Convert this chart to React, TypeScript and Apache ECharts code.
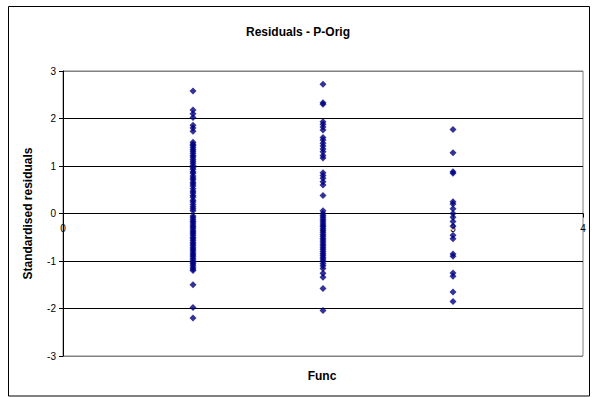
import React, { useEffect, useRef } from "react";
import * as echarts from "echarts";

const titleText = "Residuals - P-Orig";
const xName = "Func";
const yName = "Standardised residuals";
const xTicks = [0, 1, 2, 3, 4];
const yTicks = [-3, -2, -1, 0, 1, 2, 3];

const func1 = [
  2.58, 2.18, 2.1, 2.02, 1.86, 1.8, 1.73,
  1.5, 1.46, 1.43, 1.39, 1.35, 1.31, 1.27, 1.22, 1.19, 1.14, 1.1, 1.06, 1.01, 0.97,
  0.93, 0.88, 0.85, 0.79, 0.75, 0.71, 0.66, 0.62, 0.58, 0.52, 0.47, 0.43, 0.38,
  0.34, 0.28, 0.24, 0.19, 0.14, 0.1, 0.06,
  -0.05, -0.09, -0.13, -0.17, -0.2, -0.24, -0.28, -0.31, -0.35, -0.39, -0.42, -0.46,
  -0.5, -0.53, -0.57, -0.61, -0.64, -0.68, -0.72, -0.75, -0.79, -0.83, -0.87, -0.9,
  -0.94, -0.98, -1.02, -1.05, -1.09, -1.13, -1.17, -1.2,
  -1.5, -1.98, -2.2,
];

const func2 = [
  2.72, 2.33, 2.3, 1.93, 1.88, 1.82, 1.76,
  1.6, 1.55, 1.48, 1.42, 1.36, 1.3, 1.22, 1.17,
  0.86, 0.8, 0.74, 0.67, 0.6, 0.38, 0.06,
  0.0, -0.04, -0.08, -0.12, -0.16, -0.2, -0.24, -0.28, -0.32, -0.36, -0.4, -0.44,
  -0.48, -0.52, -0.56, -0.6, -0.64, -0.68, -0.72, -0.76, -0.8, -0.84, -0.88, -0.92,
  -0.96, -1.0, -1.05, -1.1, -1.16, -1.26, -1.34, -1.58, -2.04,
];

const func3 = [
  1.77, 1.28, 0.88, 0.85, 0.25, 0.2, 0.1, 0.0, -0.08, -0.17, -0.27, -0.46, -0.53,
  -0.85, -0.9, -1.25, -1.32, -1.65, -1.85,
];

const font = "'Liberation Sans', Arial, sans-serif";

export default function App() {
  const ref = useRef<HTMLDivElement>(null);
  useEffect(() => {
    const chart = echarts.init(ref.current!, null, { renderer: "svg" });
    const data = [
      ...func1.map((v) => [1, v]),
      ...func2.map((v) => [2, v]),
      ...func3.map((v) => [3, v]),
    ];
    chart.setOption({
      animation: false,
      backgroundColor: "#fff",
      title: {
        text: titleText,
        left: "center",
        top: 21,
        textStyle: { fontFamily: font, fontSize: 12, fontWeight: "bold", color: "#000" },
      },
      grid: {
        left: 63,
        right: 13,
        top: 71,
        bottom: 41,
        show: true,
        borderColor: "#808080",
        borderWidth: 1,
        backgroundColor: "transparent",
      },
      xAxis: {
        type: "value",
        position: "bottom",
        offset: -142.5,
        min: xTicks[0],
        max: xTicks[xTicks.length - 1],
        interval: 1,
        axisLine: { show: true, onZero: false, lineStyle: { color: "#000", width: 1 } },
        axisTick: { show: true, length: 4, lineStyle: { color: "#000" } },
        axisLabel: { fontFamily: font, fontSize: 10, color: "#000", margin: 10 },
        splitLine: { show: false },
      },
      yAxis: {
        type: "value",
        min: yTicks[0],
        max: yTicks[yTicks.length - 1],
        interval: 1,
        name: yName,
        nameLocation: "middle",
        nameGap: 29,
        nameTextStyle: { fontFamily: font, fontSize: 12, fontWeight: "bold", color: "#000" },
        axisLine: { show: true, onZero: false, lineStyle: { color: "#000", width: 1 } },
        axisTick: { show: true, length: 4, lineStyle: { color: "#000" } },
        axisLabel: { fontFamily: font, fontSize: 10, color: "#000", margin: 7 },
        splitLine: {
          show: true,
          lineStyle: {
            color: ["#808080", "#000", "#000", "#000", "#000", "#000", "#808080"],
            width: 1,
          },
        },
      },
      graphic: [
        {
          type: "rect",
          shape: { x: 8.5, y: 6.5, width: 581, height: 389.5 },
          style: { fill: "none", stroke: "#000", lineWidth: 1 },
          z: 100,
        },
        {
          type: "text",
          x: 322,
          y: 376,
          style: {
            text: xName,
            fontFamily: font,
            fontSize: 12,
            fontWeight: "bold",
            fill: "#000",
            textAlign: "center",
            textVerticalAlign: "middle",
          },
        },
      ],
      series: [
        {
          type: "scatter",
          data,
          symbol: "diamond",
          symbolSize: [7, 7],
          itemStyle: { color: "#000080" },
          z: 5,
        },
      ],
    });
    return () => chart.dispose();
  }, []);
  return (
    <div
      ref={ref}
      style={{ position: "absolute", left: 0, top: 0, width: 596, height: 397, background: "#fff" }}
    />
  );
}
